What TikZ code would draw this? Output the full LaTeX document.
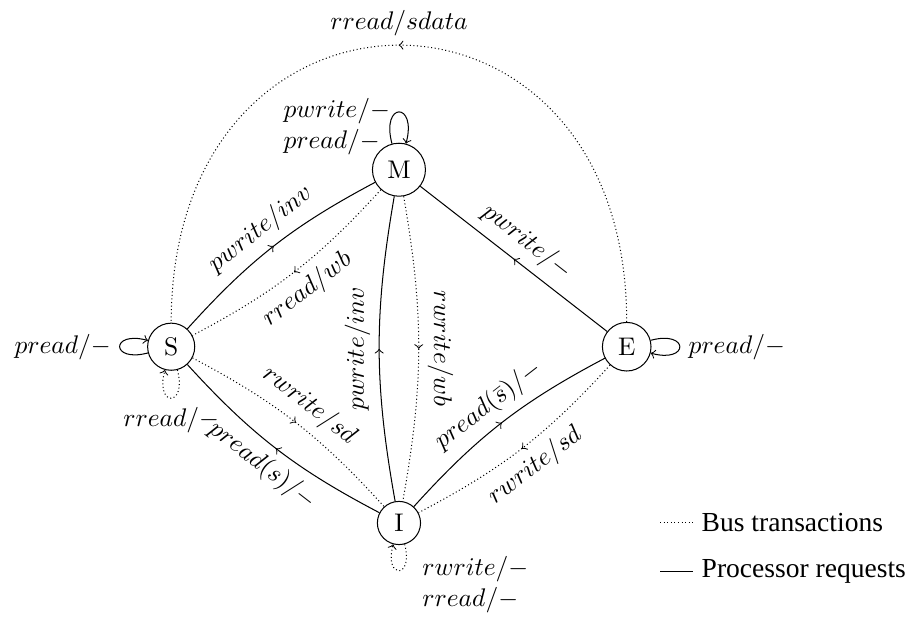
\documentclass[tikz,border=0pt]{standalone}
\usepackage{amsmath}
\usepackage{fontspec}
\newfontfamily\legendfont{Liberation Serif}
\usetikzlibrary{decorations.markings}

\begin{document}
\begin{tikzpicture}[>=to, bend angle=10]
    \tikzstyle{state}=[circle,draw]
    \tikzstyle{bus}=[densely dotted]
    \tikzstyle{proc}=[solid]
    \tikzstyle{legend}=[right,font=\legendfont\fontsize{10.8}{13}\selectfont]
    \tikzstyle{midarrow}=[postaction={decorate},decoration={markings,mark=at position 0.5 with {\arrow{>}}}]
    \useasboundingbox (-5.50,-3.72) rectangle (6.99,4.78);
      \node[state] (M) at (0,2.44)     {M};
      \node[state] (S) at (-3.14,0)    {S};
      \node[state] (E) at (3.14,0)     {E};
      \node[state] (I) at (0,-2.43)    {I};
      % processor requests
      \draw[proc,midarrow] (S) to[bend left] node[above,sloped] {$pwrite/inv$} (M);
      \draw[proc,midarrow] (E) -- node[above,sloped] {$pwrite/-$} (M);
      \draw[proc,midarrow] (I) to[bend left] node[above,rotate=90] {$pwrite/inv$} (M);
      \draw[proc,midarrow] (I) to[bend left] node[below,sloped] {$pread(s)/-$} (S);
      \draw[proc,midarrow] (I) to[bend left] node[above,sloped] {$pread(\bar{s})/-$} (E);
      \draw[proc,->] (M) to[loop above] node[left,yshift=-0.2cm,align=left] {$pwrite/-$\\$pread/-$} (M);
      \draw[proc,->] (S) to[loop left] node[left] {$pread/-$} (S);
      \draw[proc,->] (E) to[loop right] node[right] {$pread/-$} (E);
      % bus transactions
      \draw[bus,midarrow] (E) to[out=90,in=90,looseness=2.08] node[above] {$rread/sdata$} (S);
      \draw[bus,midarrow] (M) to[bend left] node[below,sloped] {$rread/wb$} (S);
      \draw[bus,midarrow] (M) to[bend left] node[above,rotate=-90] {$rwrite/wb$} (I);
      \draw[bus,midarrow] (S) to[bend left] node[above,sloped] {$rwrite/sd$} (I);
      \draw[bus,midarrow] (E) to[bend left] node[below,sloped] {$rwrite/sd$} (I);
      \draw[bus,->] (S) to[loop below] node[below] {$rread/-$} (S);
      \draw[bus,->] (I) to[loop below] node[right,xshift=0.2cm,yshift=-0.19cm,align=left] {$rwrite/-$\\$rread/-$} (I);
      % legend
      \coordinate (busL) at (3.60,-2.43);
      \node[legend] (busT) at (4.05,-2.43) {Bus transactions};
      \draw[bus] (busL) -- (busT);
      \coordinate (procL) at (3.60,-3.10);
      \node[legend] (procT) at (4.05,-3.10) {Processor requests};
      \draw[proc] (procL) -- (procT);
\end{tikzpicture}
\end{document}
